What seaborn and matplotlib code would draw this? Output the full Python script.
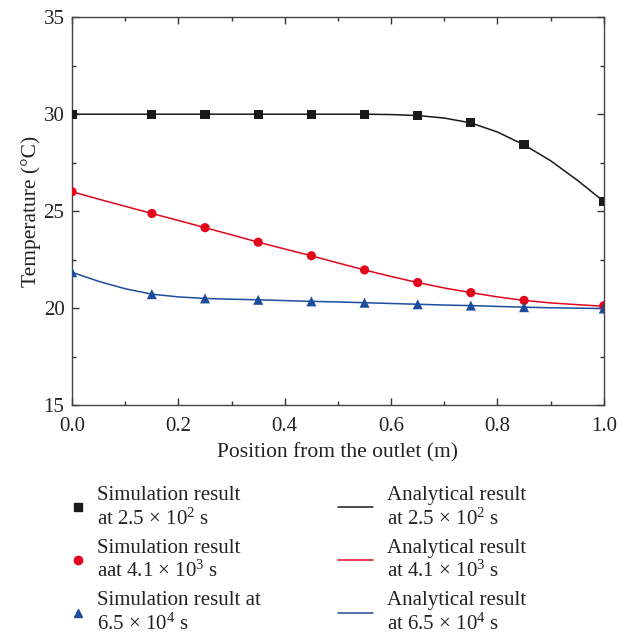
import numpy as np
import pandas as pd
import seaborn as sns
import matplotlib.pyplot as plt
from matplotlib.ticker import MultipleLocator

# simulation points
x_sim = [0.0, 0.15, 0.25, 0.35, 0.45, 0.55, 0.65, 0.75, 0.85, 1.0]
sim_t1 = [30.0, 30.0, 30.0, 30.0, 30.0, 30.0, 29.92, 29.57, 28.42, 25.5]
sim_t2 = [26.0, 24.88, 24.15, 23.4, 22.7, 21.97, 21.32, 20.8, 20.4, 20.12]
sim_t3 = [21.85, 20.72, 20.5, 20.43, 20.35, 20.28, 20.2, 20.13, 20.05, 19.98]

# analytical curves
x_ana = [0.0, 0.05, 0.1, 0.15, 0.2, 0.25, 0.3, 0.35, 0.4, 0.45, 0.5,
         0.55, 0.6, 0.65, 0.7, 0.75, 0.8, 0.85, 0.9, 0.95, 1.0]
ana_t1 = [30.0, 30.0, 30.0, 30.0, 30.0, 30.0, 30.0, 30.0, 30.0, 30.0, 30.0,
          30.0, 29.98, 29.93, 29.8, 29.55, 29.08, 28.42, 27.6, 26.6, 25.5]
ana_t2 = [26.0, 25.62, 25.25, 24.88, 24.52, 24.15, 23.78, 23.4, 23.05, 22.7, 22.33,
          21.97, 21.63, 21.32, 21.04, 20.8, 20.58, 20.4, 20.27, 20.18, 20.1]
ana_t3 = [21.85, 21.38, 21.0, 20.72, 20.58, 20.5, 20.46, 20.43, 20.39, 20.35, 20.32,
          20.28, 20.24, 20.2, 20.16, 20.13, 20.09, 20.05, 20.02, 20.0, 19.98]

sim_labels = ["Simulation result\nat 2.5 $\\times$ 10$^2$ s",
              "Simulation result\naat 4.1 $\\times$ 10$^3$ s",
              "Simulation result at\n6.5 $\\times$ 10$^4$ s"]
ana_labels = ["Analytical result\nat 2.5 $\\times$ 10$^2$ s",
              "Analytical result\nat 4.1 $\\times$ 10$^3$ s",
              "Analytical result\nat 6.5 $\\times$ 10$^4$ s"]
colors = ["#1a1a1a", "#e3061b", "#1d4c9c"]
markers = ["s", "o", "^"]

sns.set_style("ticks")
plt.rcParams['font.family'] = ['Liberation Serif', 'DejaVu Serif']
plt.rcParams['mathtext.fontset'] = 'custom'
plt.rcParams['mathtext.rm'] = 'Liberation Serif'
plt.rcParams['mathtext.it'] = 'Liberation Serif:italic'

fig = plt.figure(figsize=(6.27, 6.37), dpi=100)
ax = fig.add_axes([0.115, 0.364, 0.848, 0.609])

sim_handles, ana_handles = [], []
for ys, ya, c, m, ls, la in zip([sim_t1, sim_t2, sim_t3], [ana_t1, ana_t2, ana_t3],
                                colors, markers, sim_labels, ana_labels):
    sns.lineplot(x=x_ana, y=ya, color=c, linewidth=1.1, ax=ax)
    ana_handles.append(plt.Line2D([], [], color=c, linewidth=1.1, label=la))
    sns.scatterplot(x=x_sim, y=ys, color=c, marker=m, s=44 if m != '^' else 52,
                    edgecolor='none', ax=ax, zorder=3)
    sim_handles.append(plt.Line2D([], [], color=c, marker=m, linestyle='none',
                                  markersize=6.0, label=ls))

ax.set_xlim(0, 1.0)
ax.set_ylim(15, 35)
ax.xaxis.set_major_locator(MultipleLocator(0.2))
ax.xaxis.set_minor_locator(MultipleLocator(0.1))
ax.yaxis.set_major_locator(MultipleLocator(5))
ax.yaxis.set_minor_locator(MultipleLocator(2.5))
ax.xaxis.set_major_formatter(plt.FormatStrFormatter('%.1f'))
ax.tick_params(which='both', direction='in', top=True, right=True,
               labelsize=15, colors='#333333', labelcolor='#222222')
ax.tick_params(which='major', length=5, width=1)
ax.tick_params(which='minor', length=3, width=1)
ax.tick_params(axis='x', pad=8.5)
ax.tick_params(axis='y', pad=5.5)
for sp in ax.spines.values():
    sp.set_color('#444444')
    sp.set_linewidth(1)
ax.set_xlabel("Position from the outlet (m)", fontsize=15.5, color='#222222', labelpad=5)
ax.set_ylabel("Temperature (°C)", fontsize=15.5, color='#222222', labelpad=2)

leg1 = fig.legend(handles=sim_handles, loc='upper left',
                  bbox_to_anchor=(67.5 / 627, 0.237), frameon=False, fontsize=15,
                  labelspacing=0.44, handlelength=1.0, handletextpad=0.43,
                  borderpad=0, borderaxespad=0, labelcolor='#222222')
leg2 = fig.legend(handles=ana_handles, loc='upper left',
                  bbox_to_anchor=(338 / 627, 0.237), frameon=False, fontsize=15,
                  labelspacing=0.44, handlelength=1.68, handletextpad=0.67,
                  borderpad=0, borderaxespad=0, labelcolor='#222222')

plt.savefig("out.png", dpi=100)
